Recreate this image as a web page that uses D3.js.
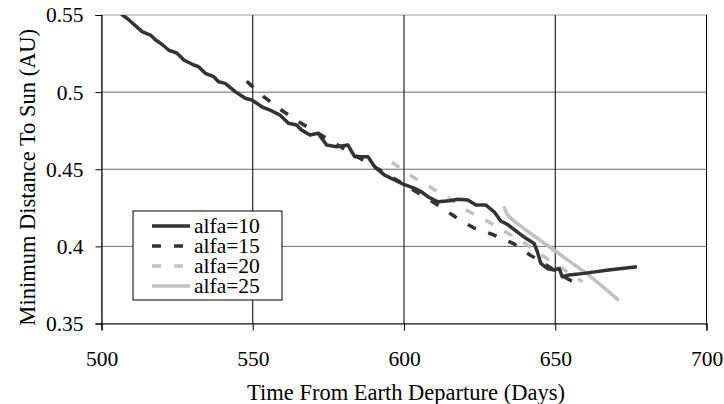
<!DOCTYPE html>
<html>
<head>
<meta charset="utf-8">
<script src="https://cdn.jsdelivr.net/npm/d3@7/dist/d3.min.js"></script>
<style>
  body { margin: 0; background: #fff; }
  svg text { font-family: "Liberation Serif", "Times New Roman", serif !important; fill: #000; }
</style>
</head>
<body>
<div id="chart"></div>
<script>
const WIDTH = 724
const HEIGHT = 404

// axis ticks
const xTicks = [500, 550, 600, 650, 700]
const yTicks = [0.35, 0.4, 0.45, 0.5, 0.55]

// alfa=10 (noisy solid dark)
const days10 = [505, 507, 509.1, 513.4, 516.2, 517.9, 519.5, 522.2, 525, 527.2, 530.5, 532.1, 534.3, 537.1, 538.7, 540.9, 544.2, 547.5, 549.7,
  553, 555.7, 559, 561.8, 564.5, 566.1, 568.9, 571.6, 574.4, 577.7, 581.5, 583.7, 588.1, 590.3, 593.6, 596.9,
  599.1, 603.5, 605.7, 607.9, 611.2, 615, 617.8, 621.1, 623.8, 627.1, 629.8, 632, 634.5, 637.5, 640.3, 643, 644.1, 645.2,
  647.4, 649.6, 651.3, 652.3, 654.5, 659.5, 667, 677]
const dist10 = [0.553, 0.55, 0.5468, 0.5392, 0.537, 0.5338, 0.5317, 0.5273, 0.5252, 0.5208, 0.5176, 0.5165, 0.5122, 0.51, 0.5067, 0.5057, 0.5003, 0.496, 0.4949,
  0.4905, 0.4884, 0.4851, 0.4798, 0.4787, 0.4754, 0.4722, 0.4733, 0.4657, 0.4646, 0.4657, 0.4581, 0.4581, 0.4516, 0.4462, 0.443,
  0.4409, 0.4376, 0.4354, 0.4322, 0.4289, 0.4296, 0.4305, 0.43, 0.4268, 0.4268, 0.4224, 0.4165, 0.4138, 0.4092, 0.4052, 0.4019, 0.3965, 0.389,
  0.3857, 0.3846, 0.3857, 0.3803, 0.3814, 0.3825, 0.3845, 0.3868]

// alfa=15 (dashed dark)
const days15 = [548, 553, 559, 565, 571, 577, 583, 589, 595, 601, 606, 611, 617, 623, 629, 636, 642, 647, 654, 657]
const dist15 = [0.507, 0.498, 0.489, 0.481, 0.474, 0.467, 0.460, 0.453, 0.446, 0.439, 0.433, 0.427, 0.419, 0.412, 0.408, 0.402, 0.394, 0.388, 0.379, 0.376]

// alfa=20 (dashed light)
const days20 = [596, 603, 609, 615, 621, 627, 633, 640, 645, 652, 659]
const dist20 = [0.4545, 0.445, 0.438, 0.431, 0.423, 0.417, 0.410, 0.402, 0.395, 0.386, 0.377]

// alfa=25 (solid light)
const days25 = [633, 634, 636, 640, 645, 650, 655, 660, 665, 671]
const dist25 = [0.426, 0.421, 0.417, 0.411, 0.404, 0.397, 0.390, 0.383, 0.375, 0.365]

const series = [
  { name: "alfa=10", x: days10, y: dist10, color: "#333333", dash: null, width: 3.5 },
  { name: "alfa=15", x: days15, y: dist15, color: "#333333", dash: "9,13", width: 3.5 },
  { name: "alfa=20", x: days20, y: dist20, color: "#c0c0c0", dash: "9,13", width: 3.5 },
  { name: "alfa=25", x: days25, y: dist25, color: "#c0c0c0", dash: null, width: 3.5 }
]

const SERIF = '"Liberation Serif", "Times New Roman", serif'
const margin = { left: 101.5, right: 17.5, top: 15, bottom: 80.5 }

const svg = d3.select("#chart").append("svg")
  .attr("width", WIDTH)
  .attr("height", HEIGHT)
  .attr("font-family", SERIF)

const x = d3.scaleLinear().domain([500, 700]).range([margin.left, WIDTH - margin.right])
const y = d3.scaleLinear().domain([0.35, 0.55]).range([HEIGHT - margin.bottom, margin.top])

// plot area border (grey)
svg.append("rect")
  .attr("x", x(500)).attr("y", y(0.55))
  .attr("width", x(700) - x(500)).attr("height", y(0.35) - y(0.55))
  .attr("fill", "none").attr("stroke", "#a0a0a0").attr("stroke-width", 1)

// horizontal gridlines
svg.append("g").selectAll("line")
  .data(yTicks.slice(1, -1))
  .enter().append("line")
  .attr("x1", x(500)).attr("x2", x(700))
  .attr("y1", d => y(d)).attr("y2", d => y(d))
  .attr("stroke", "#6a6a6a")

// vertical gridlines
svg.append("g").selectAll("line")
  .data(xTicks.slice(1))
  .enter().append("line")
  .attr("x1", d => x(d)).attr("x2", d => x(d))
  .attr("y1", y(0.55)).attr("y2", y(0.35))
  .attr("stroke", "#000")

// clip for series
svg.append("clipPath").attr("id", "plotclip")
  .append("rect")
  .attr("x", x(500)).attr("y", y(0.55))
  .attr("width", x(700) - x(500)).attr("height", y(0.35) - y(0.55))

const line = d3.line().x(d => x(d[0])).y(d => y(d[1]))

const gLines = svg.append("g").attr("clip-path", "url(#plotclip)")
series.slice().reverse().forEach(s => {
  gLines.append("path")
    .datum(s.x.map((d, i) => [d, s.y[i]]))
    .attr("d", line)
    .attr("fill", "none")
    .attr("stroke", s.color)
    .attr("stroke-width", s.width)
    .attr("stroke-dasharray", s.dash)
    .attr("stroke-linejoin", "round")
})

// axes
const xAxis = svg.append("g")
  .attr("transform", `translate(0,${y(0.35)})`)
  .call(d3.axisBottom(x).tickValues(xTicks).tickSize(7).tickPadding(20).tickFormat(d3.format("d")))
const yAxis = svg.append("g")
  .attr("transform", `translate(${x(500)},0)`)
  .call(d3.axisLeft(y).tickValues(yTicks).tickSize(6).tickPadding(12).tickFormat(d => String(d)))

;[xAxis, yAxis].forEach(g => {
  g.attr("font-family", SERIF).attr("font-size", null)
  g.select(".domain").attr("stroke", "#000").attr("stroke-width", 1.2)
  g.selectAll(".tick line").attr("stroke", "#000")
  g.selectAll("text")
    .attr("font-family", SERIF)
    .style("font-size", "21.5px")
    .attr("fill", "#000")
})

// axis titles
svg.append("text")
  .attr("x", (x(500) + x(700)) / 2 + 2).attr("y", 400)
  .attr("text-anchor", "middle")
  .attr("font-family", SERIF)
  .style("font-size", "22.5px")
  .text("Time From Earth Departure (Days)")

svg.append("text")
  .attr("transform", `translate(35,${(y(0.35) + y(0.55)) / 2 + 8}) rotate(-90)`)
  .attr("text-anchor", "middle")
  .attr("font-family", SERIF)
  .style("font-size", "22.5px")
  .text("Minimum Distance To Sun (AU)")

// legend
const legend = svg.append("g").attr("transform", "translate(133,211)")
legend.append("rect")
  .attr("width", 149).attr("height", 89)
  .attr("fill", "#fff").attr("stroke", "#000")

series.forEach((s, i) => {
  const row = legend.append("g").attr("transform", `translate(0,${15 + i * 20})`)
  row.append("line")
    .attr("x1", 19).attr("x2", 57)
    .attr("stroke", s.color)
    .attr("stroke-width", s.width)
    .attr("stroke-dasharray", s.dash)
  row.append("text")
    .attr("x", 61).attr("y", 7)
    .attr("font-family", SERIF)
    .style("font-size", "21.5px")
    .text(s.name)
})
</script>
</body>
</html>
